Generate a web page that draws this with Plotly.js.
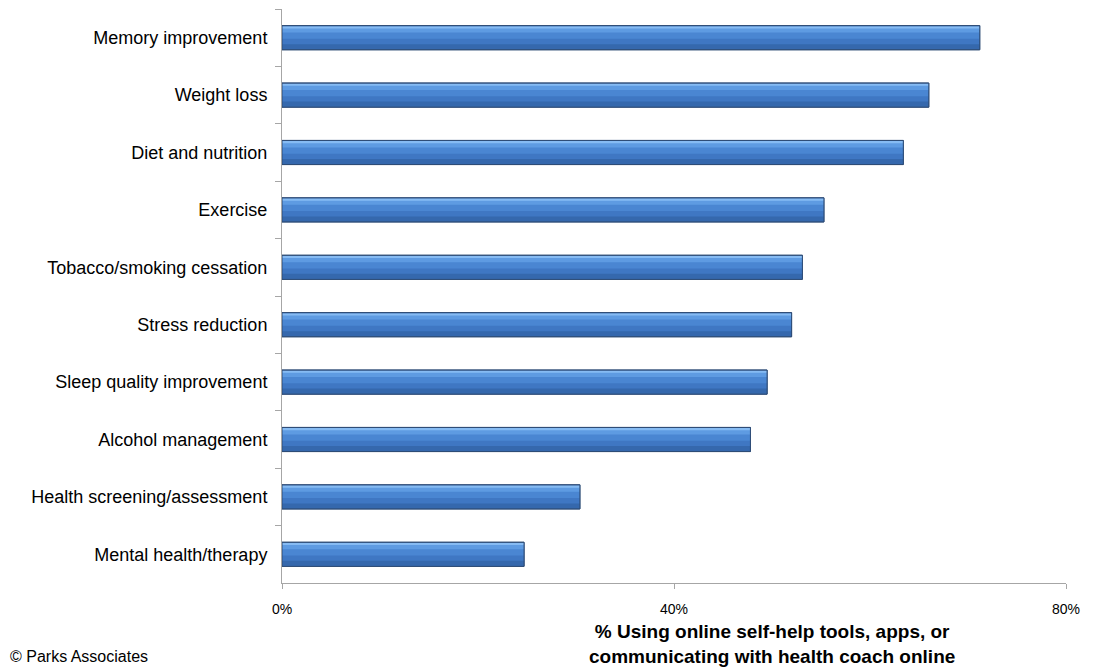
<!DOCTYPE html>
<html>
<head>
<meta charset="utf-8">
<script src="https://cdn.plot.ly/plotly-3.0.1.min.js"></script>
<style>
html,body{margin:0;padding:0;background:#fff;}
#chart{width:1096px;height:669px;}
</style>
</head>
<body>
<div id="chart"></div>
<script>
const categories = [
  "Memory improvement",
  "Weight loss",
  "Diet and nutrition",
  "Exercise",
  "Tobacco/smoking cessation",
  "Stress reduction",
  "Sleep quality improvement",
  "Alcohol management",
  "Health screening/assessment",
  "Mental health/therapy"
];
const values = [71.2, 66.0, 63.4, 55.3, 53.1, 52.0, 49.5, 47.8, 30.4, 24.7];
const xTickValues = [0, 40, 80];
const xTickLabels = ["0%", "40%", "80%"];
const axisTitle = "<b>% Using online self-help tools, apps, or<br>communicating with health coach online</b>";
const sourceNote = "© Parks Associates";

const barW = 0.42;
// shading bands (fraction of bar thickness from top, colour) to imitate the bevel gradient
const bands = [
  [0.00, 0.10, "#86BBF3"],
  [0.10, 0.28, "#5E9BE2"],
  [0.28, 0.55, "#4A86D2"],
  [0.55, 0.78, "#3F77C3"],
  [0.78, 1.00, "#3568AD"]
];
const traces = [{
  type: "bar", orientation: "h", x: values, y: categories,
  width: barW, offset: -barW/2,
  marker: {color: "#3F78C4", line: {color: "#2E4C76", width: 1}},
  hoverinfo: "x+y"
}];
bands.forEach((b, i) => {
  const extra = i < bands.length - 1 ? 0.06 : 0;
  traces.push({
    type: "bar", orientation: "h", x: values, y: categories,
    width: (b[1]-b[0]+extra)*barW*0.96, offset: -barW/2 + barW*0.02 + b[0]*barW*0.96,
    marker: {color: b[2], line: {width: 0}},
    hoverinfo: "skip"
  });
});
// outline on top
traces.push({
  type: "bar", orientation: "h", x: values, y: categories,
  width: barW, offset: -barW/2,
  marker: {color: "rgba(0,0,0,0)", line: {color: "#2E4C76", width: 1}},
  hoverinfo: "skip"
});

const layout = {
  width: 1096, height: 669,
  margin: {l: 282, r: 30, t: 9, b: 86},
  paper_bgcolor: "#fff", plot_bgcolor: "#fff",
  barmode: "overlay",
  showlegend: false,
  font: {family: "Liberation Sans, Arial, sans-serif", color: "#000"},
  xaxis: {
    range: [0, 80], tickvals: xTickValues, ticktext: xTickLabels,
    showgrid: false, zeroline: false, showline: true,
    linecolor: "#A6A6A6", linewidth: 1,
    ticks: "outside", ticklen: 5, tickcolor: "#A6A6A6",
    ticklabelstandoff: 8,
    tickfont: {size: 14, color: "#000"}
  },
  yaxis: {
    type: "category", range: [9.5, -0.5],
    showgrid: false, zeroline: false, showline: true,
    linecolor: "#A6A6A6", linewidth: 1,
    ticks: "outside", ticklen: 6, tickcolor: "#A6A6A6", tickson: "boundaries",
    ticklabelstandoff: 10,
    tickfont: {size: 18, color: "#000"}
  },
  annotations: [
    {text: axisTitle, xref: "paper", yref: "paper", x: 0.625, y: -0.063,
     xanchor: "center", yanchor: "top", showarrow: false, align: "center",
     font: {size: 19, color: "#000"}},
    {text: sourceNote, xref: "paper", yref: "paper", x: -282/784, y: -0.11,
     xanchor: "left", yanchor: "top", showarrow: false,
     font: {size: 16, color: "#000"}, xshift: 8}
  ]
};

Plotly.newPlot("chart", traces, layout, {displayModeBar: false, staticPlot: true});
</script>
</body>
</html>
